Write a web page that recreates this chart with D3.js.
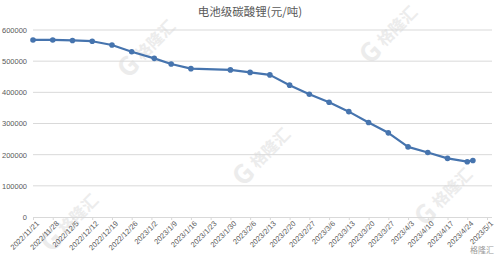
<!DOCTYPE html>
<html>
<head>
<meta charset="utf-8">
<script src="https://cdn.jsdelivr.net/npm/d3@7"></script>
<style>
  body { margin: 0; background: #fff; }
  svg { display: block; font-family: "Noto Sans CJK SC", "DejaVu Sans", sans-serif; }
</style>
</head>
<body>
<svg id="chart" width="500" height="257"></svg>
<script>
// data
const dates = ["2022/11/21", "2022/11/28", "2022/12/5", "2022/12/12", "2022/12/19", "2022/12/26",
  "2023/1/3", "2023/1/9", "2023/1/16", "2023/1/30", "2023/2/6", "2023/2/13", "2023/2/20",
  "2023/2/27", "2023/3/6", "2023/3/13", "2023/3/20", "2023/3/27", "2023/4/3", "2023/4/10",
  "2023/4/17", "2023/4/24", "2023/4/26"];
const prices = [568000, 568000, 566500, 564000, 552000, 530000,
  509000, 491000, 476000, 472000, 464000, 456000, 423000,
  394000, 368000, 338000, 303000, 270000, 225000, 207000,
  188000, 177500, 181500];
const tickLabels = ["2022/11/21", "2022/11/28", "2022/12/5", "2022/12/12", "2022/12/19", "2022/12/26",
  "2023/1/2", "2023/1/9", "2023/1/16", "2023/1/23", "2023/1/30", "2023/2/6", "2023/2/13",
  "2023/2/20", "2023/2/27", "2023/3/6", "2023/3/13", "2023/3/20", "2023/3/27", "2023/4/3",
  "2023/4/10", "2023/4/17", "2023/4/24", "2023/5/1"];
const yTicks = [0, 100000, 200000, 300000, 400000, 500000, 600000];
const title = "电池级碳酸锂(元/吨)";

const parse = d3.timeParse("%Y/%m/%d");
const data = dates.map((d, i) => ({ x: parse(d), y: prices[i] }));
const tickDates = tickLabels.map(parse);

const svg = d3.select("#chart");

const xscale = d3.scaleTime()
  .domain([tickDates[0], tickDates[tickDates.length - 1]])
  .range([33, 487]);
const yscale = d3.scaleLinear().domain([0, 600000]).range([217, 30]);

// watermarks
const marks = [[143, 52], [385, 38], [258, 160], [440, 200], [66, 226]];
const wm = svg.append("g").attr("fill", "#ececec");
marks.forEach(([x, y]) => {
  const g = wm.append("g").attr("transform", `translate(${x},${y}) rotate(-45)`);
  g.append("text").attr("x", -30).attr("y", 9)
    .style("font-size", "26px").style("font-weight", "bold").text("G");
  g.append("text").attr("x", -7).attr("y", 6)
    .style("font-size", "16px").style("font-weight", "bold").text("格隆汇");
});

// grid
svg.append("g")
  .selectAll("line")
  .data(yTicks.slice(1))
  .join("line")
  .attr("x1", 33).attr("x2", 492)
  .attr("y1", d => yscale(d)).attr("y2", d => yscale(d))
  .attr("stroke", "#d9d9d9").attr("stroke-width", 1);

// y axis labels
const yaxis = d3.axisLeft(yscale).tickValues(yTicks).tickSize(0).tickPadding(6).tickFormat(d3.format("d"));
svg.append("g")
  .attr("transform", "translate(33,0)")
  .call(yaxis)
  .call(g => g.select(".domain").remove())
  .call(g => g.selectAll("text").attr("fill", "#595959").style("font-size", "7.5px")
    .style("font-family", "'Liberation Sans', Arial, sans-serif"));

// x axis
const xaxis = d3.axisBottom(xscale).tickValues(tickDates).tickSize(3)
  .tickFormat((d, i) => tickLabels[i]);
svg.append("g")
  .attr("transform", "translate(0,217)")
  .call(xaxis)
  .call(g => g.select(".domain").attr("d", "M33,0.5H492").attr("stroke", "#d9d9d9"))
  .call(g => g.selectAll(".tick line").attr("stroke", "#d9d9d9"))
  .call(g => g.selectAll("text")
    .attr("fill", "#595959")
    .style("font-size", "7.5px")
    .style("font-family", "'Liberation Sans', Arial, sans-serif")
    .attr("text-anchor", "end")
    .attr("dy", "0.3em")
    .attr("transform", "translate(1,2) rotate(-45)")
    .attr("y", 5).attr("x", 0));

// line + markers
const line = d3.line().x(d => xscale(d.x)).y(d => yscale(d.y));
svg.append("path")
  .datum(data)
  .attr("fill", "none")
  .attr("stroke", "#4674ae")
  .attr("stroke-width", 2.2)
  .attr("stroke-linejoin", "round")
  .attr("d", line);

svg.append("g")
  .selectAll("circle")
  .data(data)
  .join("circle")
  .attr("cx", d => xscale(d.x))
  .attr("cy", d => yscale(d.y))
  .attr("r", 2.8)
  .attr("fill", "#4674ae");

// title
svg.append("text")
  .attr("x", 250).attr("y", 16)
  .attr("text-anchor", "middle")
  .attr("fill", "#595959")
  .style("font-size", "11.5px")
  .text(title);

// corner logo
svg.append("text")
  .attr("x", 470).attr("y", 253)
  .attr("fill", "#9a9a9a")
  .style("font-size", "8px")
  .text("格隆汇");
</script>
</body>
</html>
